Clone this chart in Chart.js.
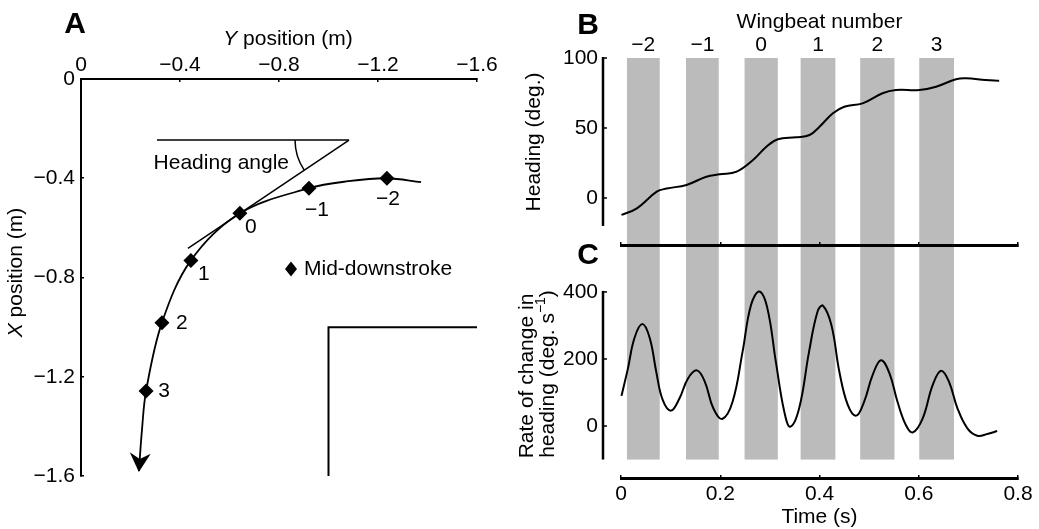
<!DOCTYPE html>
<html lang="en">
<head>
<meta charset="UTF-8">
<title>Heading changes during a turn</title>
<script src="https://cdn.jsdelivr.net/npm/chart.js"></script>
<style>
  body { margin: 0; background: #fff; }
  .figure { position: relative; width: 1039px; height: 529px; }
  .figure canvas { position: absolute; left: 0; top: 0; }
</style>
</head>
<body>
<div class="figure">
  <canvas id="pathChart" width="1039" height="529"></canvas>
  <canvas id="rateChart" width="1039" height="529"></canvas>
  <canvas id="headingChart" width="1039" height="529"></canvas>
</div>
<script>
// ---- A: flight path seen from above (m) ----
const posTicks = [0, -0.4, -0.8, -1.2, -1.6];
const pathY = [-1.374, -1.236, -1.079, -0.921, -0.642, -0.444, -0.327, -0.263, -0.246, -0.234];
const pathX = [-0.416, -0.400, -0.412, -0.440, -0.541, -0.731, -0.982, -1.257, -1.418, -1.580];
// path samples taken at mid-downstroke
const beatIndex = [1, 3, 4, 5, 6, 7];
const wingbeats = ['\u22122', '\u22121', '0', '1', '2', '3'];
// horizontal reference and tangent at wingbeat 0
const refLineY = [-0.307, -1.083];
const refLineX = [-0.246, -0.246];
const tangentY = [-1.083, -0.432];
const tangentX = [-0.246, -0.683];
const cornerY = [-1.6, -1.0, -1.0];
const cornerX = [-1.0, -1.0, -1.6];

// ---- B: heading (deg.) ----
const timeTicks = [0, 0.2, 0.4, 0.6, 0.8];
const headingTicks = [0, 50, 100];
const headingTime = [0.001, 0.032, 0.072, 0.092, 0.132, 0.172, 0.199, 0.233, 0.266, 0.293, 0.316, 0.353, 0.380,
  0.400, 0.427, 0.450, 0.487, 0.527, 0.554, 0.601, 0.635, 0.675, 0.695, 0.735, 0.762];
const heading = [-12.1, -7.4, 4.5, 6.7, 9.3, 15.2, 16.9, 18.8, 27.1, 36.6, 41.9, 43.3, 45.0,
  50.9, 60.5, 65.2, 67.6, 74.8, 77.1, 77.1, 79.5, 84.8, 85.5, 84.3, 83.8];

// ---- C: rate of change in heading (deg. s-1) ----
const rateTicks = [0, 200, 400];
const rateTime = [0.001, 0.014, 0.027, 0.043, 0.058, 0.071, 0.084, 0.101, 0.118, 0.135, 0.153, 0.169,
  0.186, 0.204, 0.225, 0.245, 0.262, 0.279, 0.295, 0.312, 0.329, 0.341, 0.359, 0.379, 0.396,
  0.407, 0.424, 0.440, 0.457, 0.474, 0.490, 0.507, 0.524, 0.541, 0.557, 0.574, 0.588, 0.608,
  0.628, 0.645, 0.661, 0.678, 0.698, 0.718, 0.738, 0.758];
const rate = [90, 172, 262, 304, 262, 162, 78, 46, 83, 142, 166, 132,
  53, 21, 73, 222, 361, 401, 351, 192, 43, -2, 53, 222, 341,
  359, 301, 162, 63, 31, 73, 152, 196, 157, 73, 3, -19, 23,
  122, 165, 132, 53, -7, -29, -24, -15];

// downstroke intervals (s)
const downStart = [0.012, 0.131, 0.249, 0.362, 0.482, 0.601];
const downEnd = [0.078, 0.197, 0.316, 0.432, 0.551, 0.671];

const FONT = '"Liberation Sans", Arial, Helvetica, sans-serif';
const REG = '21px ' + FONT;
const ITAL = 'italic 21px ' + FONT;
const BOLD = 'bold 30px ' + FONT;
const SUP = '14px ' + FONT;
const BAND = '#bbbbbb';

Chart.defaults.font.family = FONT;
Chart.defaults.font.size = 21;
Chart.defaults.color = '#000';
Chart.defaults.animation = false;
Chart.defaults.plugins.legend.display = false;
Chart.defaults.plugins.tooltip.enabled = false;

const minus = v => (v < 0 ? '\u2212' : '') + Math.abs(v);
const pts = (xs, ys) => xs.map((v, i) => ({ x: v, y: ys[i] }));

// centred text made of differently styled pieces, optionally rotated
function richText(ctx, parts, cx, cy, angle) {
  ctx.save();
  ctx.translate(cx, cy);
  if (angle) ctx.rotate(angle);
  ctx.fillStyle = '#000';
  ctx.textBaseline = 'middle';
  ctx.textAlign = 'left';
  let w = 0;
  parts.forEach(p => { ctx.font = p[1]; w += ctx.measureText(p[0]).width; });
  let x = -w / 2;
  parts.forEach(p => {
    ctx.font = p[1];
    ctx.fillText(p[0], x, p[2] || 0);
    x += ctx.measureText(p[0]).width;
  });
  ctx.restore();
}

function fixedBox(size) {
  return s => {
    if (s.isHorizontal()) s.height = size; else s.width = size;
    s.paddingLeft = s.paddingRight = s.paddingTop = s.paddingBottom = 0;
  };
}
const setTicks = list => s => { s.ticks = list.map(v => ({ value: v })); };

// ---------- panel A ----------
const pathDecor = {
  id: 'pathDecor',
  afterDatasetsDraw(chart) {
    const { ctx, scales: { x, y }, chartArea: ca } = chart;
    ctx.save();
    ctx.fillStyle = '#000';
    ctx.strokeStyle = '#000';

    // arrowhead on the end of the path
    const n = pathY.length;
    const tx = x.getPixelForValue(pathY[n - 1]), ty = y.getPixelForValue(pathX[n - 1]);
    const bx = x.getPixelForValue(pathY[n - 2]), by = y.getPixelForValue(pathX[n - 2]);
    ctx.save();
    ctx.translate(tx, ty);
    ctx.rotate(Math.atan2(ty - by, tx - bx));
    ctx.beginPath();
    ctx.moveTo(1, 0);
    ctx.lineTo(-18, -10.5);
    ctx.lineTo(-12, 0);
    ctx.lineTo(-18, 10.5);
    ctx.closePath();
    ctx.fill();
    ctx.restore();

    // heading angle arc
    const vx = x.getPixelForValue(tangentY[0]), vy = y.getPixelForValue(tangentX[0]);
    const ex = x.getPixelForValue(tangentY[1]), ey = y.getPixelForValue(tangentX[1]);
    ctx.lineWidth = 1.5;
    ctx.beginPath();
    ctx.arc(vx, vy, 54, Math.atan2(ey - vy, ex - vx), Math.PI);
    ctx.stroke();

    ctx.font = REG;
    ctx.textBaseline = 'middle';
    ctx.textAlign = 'right';
    ctx.fillText('Heading angle', vx - 60, vy + 23);

    // wingbeat numbers next to the diamonds
    const offs = [[1, 21], [8, 22], [11, 14], [13, 14], [20, 1], [18, 0]];
    ctx.textAlign = 'center';
    beatIndex.forEach((k, i) => {
      const px = x.getPixelForValue(pathY[k]), py = y.getPixelForValue(pathX[k]);
      ctx.fillText(wingbeats[i], px + offs[i][0], py + offs[i][1]);
    });

    // key
    const kx = ca.left + 210, ky = ca.top + 190;
    ctx.beginPath();
    ctx.moveTo(kx, ky - 7.5);
    ctx.lineTo(kx + 6, ky);
    ctx.lineTo(kx, ky + 7.5);
    ctx.lineTo(kx - 6, ky);
    ctx.closePath();
    ctx.fill();
    ctx.textAlign = 'left';
    ctx.fillText('Mid-downstroke', kx + 13, ky);

    // panel letter and axis titles
    richText(ctx, [['A', BOLD]], ca.left - 6, 25);
    richText(ctx, [['Y', ITAL], [' position (m)', REG]], (ca.left + ca.right) / 2 + 9, 39);
    richText(ctx, [['X', ITAL], [' position (m)', REG]], 16, (ca.top + ca.bottom) / 2 - 5, -Math.PI / 2);
    ctx.restore();
  }
};

new Chart(document.getElementById('pathChart'), {
  type: 'scatter',
  data: {
    datasets: [
      {
        data: pts(pathY, pathX), showLine: true, tension: 0.35,
        borderColor: '#000', borderWidth: 1.8, pointRadius: 0, clip: false
      },
      {
        data: beatIndex.map(k => ({ x: pathY[k], y: pathX[k] })),
        pointStyle: 'rectRot', pointRadius: 7.5,
        backgroundColor: '#000', borderColor: '#000', borderWidth: 0, clip: false
      },
      {
        data: pts(tangentY, tangentX), showLine: true,
        borderColor: '#000', borderWidth: 1.5, pointRadius: 0, clip: false
      },
      {
        data: pts(refLineY, refLineX), showLine: true,
        borderColor: '#000', borderWidth: 1.5, pointRadius: 0, clip: false
      },
      {
        data: pts(cornerY, cornerX), showLine: true,
        borderColor: '#000', borderWidth: 2, pointRadius: 0, clip: false
      }
    ]
  },
  options: {
    responsive: false,
    layout: { padding: { left: 0, top: 0, right: 562, bottom: 53 } },
    scales: {
      x: {
        type: 'linear', position: 'top', reverse: true, min: -1.6, max: 0,
        afterBuildTicks: setTicks(posTicks),
        afterFit: fixedBox(79),
        border: { color: '#000', width: 2 },
        grid: { drawOnChartArea: false, tickLength: -3, color: '#000', lineWidth: 1.5 },
        ticks: { padding: 4, maxRotation: 0, autoSkip: false, callback: v => minus(v) }
      },
      y: {
        type: 'linear', position: 'left', min: -1.6, max: 0,
        afterBuildTicks: setTicks(posTicks),
        afterFit: fixedBox(81),
        border: { color: '#000', width: 2 },
        grid: { drawOnChartArea: false, tickLength: -3, color: '#000', lineWidth: 1.5 },
        ticks: { padding: 9, autoSkip: false, callback: v => minus(v) }
      }
    }
  },
  plugins: [pathDecor]
});

// ---------- panels B and C ----------
function bandsPlugin(topValue, bottomValue) {
  return {
    id: 'bands',
    beforeDraw(chart) {
      const { ctx, scales: { x, y }, chartArea: ca } = chart;
      const top = topValue === null ? ca.top : y.getPixelForValue(topValue);
      const bottom = bottomValue === null ? ca.bottom : y.getPixelForValue(bottomValue);
      ctx.save();
      ctx.fillStyle = BAND;
      downStart.forEach((s, i) => {
        const x0 = x.getPixelForValue(s), x1 = x.getPixelForValue(downEnd[i]);
        ctx.fillRect(x0, top, x1 - x0, bottom - top);
      });
      ctx.restore();
    }
  };
}

// y axis drawn detached from the plotting area
function offsetAxisPlugin(ticks, low) {
  return {
    id: 'offsetAxis',
    afterDraw(chart) {
      const { ctx, scales: { y }, chartArea: ca } = chart;
      const ax = ca.left - 18;
      ctx.save();
      ctx.strokeStyle = '#000';
      ctx.lineWidth = 2.5;
      ctx.beginPath();
      ctx.moveTo(ax, y.getPixelForValue(ticks[ticks.length - 1]) - 1);
      ctx.lineTo(ax, y.getPixelForValue(low));
      ctx.stroke();
      ctx.lineWidth = 1.5;
      ticks.forEach(t => {
        const py = y.getPixelForValue(t);
        ctx.beginPath();
        ctx.moveTo(ax, py);
        ctx.lineTo(ax + 4, py);
        ctx.stroke();
      });
      ctx.restore();
    }
  };
}

const headingText = {
  id: 'headingText',
  afterDraw(chart) {
    const { ctx, scales: { x }, chartArea: ca } = chart;
    richText(ctx, [['B', BOLD]], ca.left - 33, 26);
    richText(ctx, [['Wingbeat number', REG]], (ca.left + ca.right) / 2, ca.top - 36);
    downStart.forEach((s, i) => {
      const cx = (x.getPixelForValue(s) + x.getPixelForValue(downEnd[i])) / 2;
      richText(ctx, [[wingbeats[i], REG]], cx, ca.top - 13);
    });
    richText(ctx, [['Heading (deg.)', REG]], ca.left - 87, 142, -Math.PI / 2);
  }
};

const rateText = {
  id: 'rateText',
  afterDraw(chart) {
    const { ctx, chartArea: ca } = chart;
    richText(ctx, [['C', BOLD]], ca.left - 33, 256);
    richText(ctx, [['Time (s)', REG]], (ca.left + ca.right) / 2, 517);
    richText(ctx, [['Rate of change in', REG]], ca.left - 94, 376, -Math.PI / 2);
    richText(ctx, [['heading (deg. s', REG], ['\u22121', SUP, -7], [')', REG]], ca.left - 73, 374, -Math.PI / 2);
  }
};

const timeAxis = (labels, height) => ({
  type: 'linear', position: 'bottom', min: 0, max: 0.8,
  afterBuildTicks: setTicks(timeTicks),
  afterFit: fixedBox(height),
  border: { color: '#000', width: 3 },
  grid: { drawOnChartArea: false, tickLength: -3, color: '#000', lineWidth: 1.5 },
  ticks: {
    display: labels, padding: 7, maxRotation: 0, autoSkip: false,
    callback: v => (v === 0 ? '0' : v.toFixed(1))
  }
});

const valueAxis = (min, max, ticks) => ({
  type: 'linear', position: 'left', min: min, max: max,
  afterBuildTicks: setTicks(ticks),
  afterFit: fixedBox(101),
  border: { display: false },
  grid: { display: false, drawTicks: false },
  ticks: { padding: 23, autoSkip: false }
});

new Chart(document.getElementById('headingChart'), {
  type: 'line',
  data: {
    datasets: [{
      data: pts(headingTime, heading),
      borderColor: '#000', borderWidth: 2, pointRadius: 0,
      tension: 0.4, clip: false
    }]
  },
  options: {
    responsive: false,
    layout: { padding: { left: 520, top: 58, right: 21, bottom: 0 } },
    scales: {
      x: timeAxis(false, 284),
      y: valueAxis(-33.6, 100, headingTicks)
    }
  },
  plugins: [bandsPlugin(100, null), offsetAxisPlugin(headingTicks, -20), headingText]
});

new Chart(document.getElementById('rateChart'), {
  type: 'line',
  data: {
    datasets: [{
      data: pts(rateTime, rate),
      borderColor: '#000', borderWidth: 2, pointRadius: 0,
      tension: 0.4, clip: false
    }]
  },
  options: {
    responsive: false,
    layout: { padding: { left: 520, top: 245, right: 21, bottom: 0 } },
    scales: {
      x: timeAxis(true, 51),
      y: valueAxis(-155, 540, rateTicks)
    }
  },
  plugins: [bandsPlugin(null, -100), offsetAxisPlugin(rateTicks, -100), rateText]
});
</script>
</body>
</html>
